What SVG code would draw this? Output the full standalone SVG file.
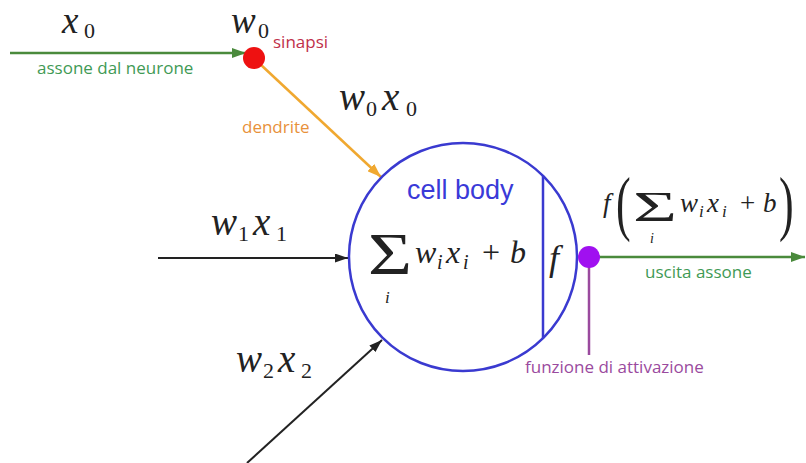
<svg xmlns="http://www.w3.org/2000/svg" width="806" height="463" viewBox="0 0 806 463">
  <style>
    .m { font-family: "Liberation Serif", "Times New Roman", serif; font-style: italic; fill: #222; }
    .up { font-family: "Liberation Serif", "Times New Roman", serif; font-style: normal; fill: #222; }
    .lbl { font-family: "Open Sans", "Noto Sans", sans-serif; font-size: 17px; }
    .green { fill: #3f9a55; }
    .red { fill: #c0304a; }
    .orange { fill: #e8913a; }
    .purple { fill: #9a4a9e; }
  </style>
  <defs>
    <marker id="ahGreen" markerUnits="userSpaceOnUse" markerWidth="14" markerHeight="10" refX="14" refY="5" orient="auto">
      <path d="M0,0 L14,5 L0,10 z" fill="#4a8a3c"/>
    </marker>
    <marker id="ahOrange" markerUnits="userSpaceOnUse" markerWidth="14" markerHeight="10" refX="14" refY="5" orient="auto">
      <path d="M0,0 L14,5 L0,10 z" fill="#f0a830"/>
    </marker>
    <marker id="ahBlack" markerUnits="userSpaceOnUse" markerWidth="13" markerHeight="9" refX="13" refY="4.5" orient="auto">
      <path d="M0,0 L13,4.5 L0,9 z" fill="#222"/>
    </marker>
  </defs>
  <rect width="806" height="463" fill="#fff"/>

  <g id="connectors" fill="none">
    <line id="axon-in" x1="10" y1="53" x2="246" y2="53" stroke="#4a8a3c" stroke-width="2.5" marker-end="url(#ahGreen)"/>
    <line id="dendrite" x1="260" y1="64" x2="381" y2="177" stroke="#f0a830" stroke-width="2.5" marker-end="url(#ahOrange)"/>
    <line id="input1" x1="158" y1="258" x2="348" y2="258" stroke="#222" stroke-width="2" marker-end="url(#ahBlack)"/>
    <line id="input2" x1="247" y1="463" x2="382" y2="340" stroke="#222" stroke-width="2" marker-end="url(#ahBlack)"/>
    <line id="axon-out" x1="598" y1="257" x2="805" y2="257" stroke="#4a8a3c" stroke-width="2.5" marker-end="url(#ahGreen)"/>
    <line id="activation-pointer" x1="589" y1="262" x2="589" y2="355" stroke="#9a4a9e" stroke-width="2.5"/>
  </g>

  <g id="input-x0">
    <text class="m" font-size="37"><tspan x="62" y="33">x</tspan><tspan class="up" font-size="22" x="84" y="38">0</tspan></text>
    <text class="lbl green" x="37" y="74">assone dal neurone</text>
  </g>

  <g id="synapse">
    <circle cx="254" cy="58" r="11" fill="#ee1111"/>
    <text class="m" font-size="37"><tspan x="231" y="33">w</tspan><tspan class="up" font-size="22" x="258" y="38">0</tspan></text>
    <text class="lbl red" x="273" y="48">sinapsi</text>
  </g>

  <g id="label-w0x0">
    <text class="m" font-size="39"><tspan x="339" y="110">w</tspan><tspan class="up" font-size="22" x="366" y="116">0</tspan><tspan x="382" y="110">x</tspan><tspan class="up" font-size="22" x="406" y="116">0</tspan></text>
    <text class="lbl orange" x="242" y="133">dendrite</text>
  </g>

  <g id="label-w1x1">
    <text class="m" font-size="39"><tspan x="211" y="235">w</tspan><tspan class="up" font-size="22" x="238" y="241">1</tspan><tspan x="253" y="235">x</tspan><tspan class="up" font-size="22" x="276" y="241">1</tspan></text>
  </g>

  <g id="label-w2x2">
    <text class="m" font-size="39"><tspan x="236" y="372">w</tspan><tspan class="up" font-size="22" x="263" y="378">2</tspan><tspan x="278" y="372">x</tspan><tspan class="up" font-size="22" x="301" y="378">2</tspan></text>
  </g>

  <g id="cell-body">
    <circle cx="463" cy="257" r="114" fill="none" stroke="#3a3ad0" stroke-width="2.5"/>
    <line x1="543" y1="176" x2="543" y2="338" stroke="#3a3ad0" stroke-width="2.5"/>
    <text x="407" y="199" font-family="Liberation Sans, Arial, sans-serif" font-size="27" fill="#3a3ad8">cell body</text>
    <text class="m" font-size="32"><tspan class="up" font-size="60" x="368" y="274" textLength="44" lengthAdjust="spacingAndGlyphs">Σ</tspan><tspan font-size="17" x="385" y="303">i</tspan><tspan x="415" y="263">w</tspan><tspan font-size="20" x="437" y="269">i</tspan><tspan x="446" y="263">x</tspan><tspan font-size="20" x="463" y="269">i</tspan><tspan class="up" x="482" y="263">+</tspan><tspan x="510" y="263">b</tspan></text>
    <text class="m" font-size="36" x="549" y="270">f</text>
  </g>

  <g id="activation">
    <circle cx="589" cy="257" r="11" fill="#a010f0"/>
    <text class="lbl purple" x="525" y="373">funzione di attivazione</text>
  </g>

  <g id="output">
    <text class="m" font-size="27" x="603" y="212">f</text>
    <text class="up" font-size="71" transform="translate(616,227) scale(0.62,1)">(</text>
    <text class="m" font-size="27"><tspan class="up" font-size="42" x="633" y="221" textLength="44" lengthAdjust="spacingAndGlyphs">Σ</tspan><tspan font-size="14" x="650" y="243">i</tspan><tspan x="680" y="212">w</tspan><tspan font-size="17" x="699" y="217">i</tspan><tspan x="707" y="212">x</tspan><tspan font-size="17" x="722" y="217">i</tspan><tspan class="up" x="740" y="212">+</tspan><tspan x="763" y="212">b</tspan></text>
    <text class="up" font-size="71" transform="translate(779,227) scale(0.62,1)">)</text>
    <text class="lbl green" x="645" y="278">uscita assone</text>
  </g>
</svg>
